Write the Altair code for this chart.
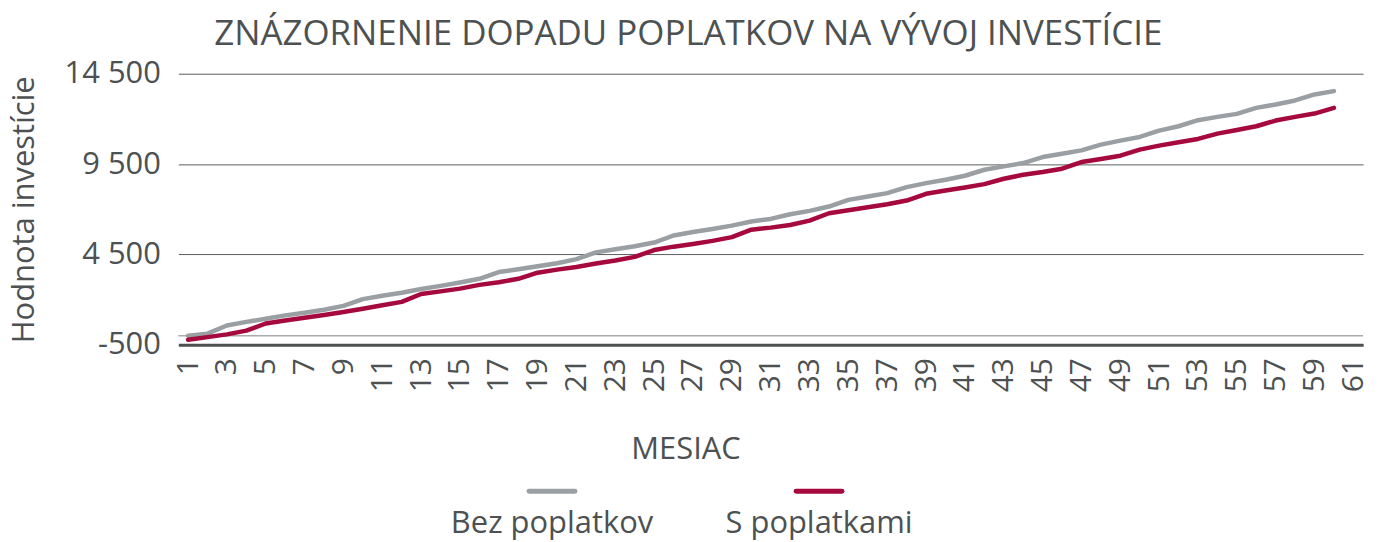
import altair as alt
import pandas as pd

# ---- data ----
months = list(range(1, 61))
bez_poplatkov = [0, 112, 562, 765, 934, 1125, 1271, 1440, 1648, 2025,
                 2211, 2379, 2587, 2756, 2942, 3150, 3521, 3673, 3842, 4011,
                 4236, 4612, 4781, 4950, 5155, 5546, 5737, 5906, 6092, 6317,
                 6463, 6722, 6907, 7148, 7518, 7704, 7889, 8222, 8444, 8630,
                 8852, 9185, 9370, 9556, 9889, 10074, 10259, 10574, 10796, 11000,
                 11352, 11593, 11926, 12111, 12278, 12611, 12797, 13019, 13352, 13537]
s_poplatkami = [-225, -79, 73, 281, 675, 844, 990, 1142, 1311, 1496,
                1687, 1873, 2306, 2452, 2604, 2812, 2959, 3150, 3487, 3656,
                3802, 3994, 4162, 4365, 4742, 4928, 5079, 5248, 5456, 5867,
                5981, 6129, 6370, 6778, 6944, 7111, 7278, 7481, 7852, 8037,
                8204, 8389, 8685, 8907, 9056, 9241, 9611, 9778, 9963, 10296,
                10519, 10704, 10889, 11185, 11389, 11593, 11907, 12111, 12296, 12611]
series_names = ["Bez poplatkov", "S poplatkami"]
series_colors = ["#9a9fa4", "#a6093d"]
y_ticks = [-500, 4500, 9500, 14500]
x_ticks = list(range(1, 62, 2))
zero_line = [0]

FONT = "Open Sans"
TEXT = "#4d5152"
W, H = 1189, 272

df = pd.DataFrame({
    "Mesiac": months + months,
    "Hodnota": bez_poplatkov + s_poplatkami,
    "Seria": [series_names[0]] * len(months) + [series_names[1]] * len(months),
})

color_scale = alt.Scale(domain=series_names, range=series_colors)

lines = alt.Chart(df).mark_line(strokeWidth=4.5, strokeCap="round", strokeJoin="round").encode(
    x=alt.X("Mesiac:Q",
            scale=alt.Scale(domain=[0.5, 61.5], nice=False, zero=False),
            axis=alt.Axis(values=x_ticks, labelAngle=-90, title="MESIAC", grid=False,
                          ticks=False, domainColor=TEXT, domainWidth=3,
                          labelFontSize=30, labelPadding=13, titleFontSize=31,
                          titleX=509, titleY=105, titleAlign="center", titleBaseline="middle",
                          labelFlush=False, labelOverlap=False)),
    y=alt.Y("Hodnota:Q",
            scale=alt.Scale(domain=[-500, 14500], nice=False, zero=False),
            axis=alt.Axis(values=y_ticks, grid=True, gridColor="#5a5e5f", gridWidth=1,
                          domain=False, ticks=False, labelFontSize=31, labelPadding=18,
                          title="Hodnota investície", titleFontSize=31, titlePadding=24,
                          labelExpr="(datum.value < 0 ? '-' : '') + replace(format(abs(datum.value), ','), ',', ' ')")),
    color=alt.Color("Seria:N", scale=color_scale, legend=None),
)

zero = alt.Chart(pd.DataFrame({"v": zero_line})).mark_rule(color="#a9abac", strokeWidth=1.5).encode(
    y="v:Q"
)

# custom legend: symbol above its label
leg_df = pd.DataFrame({"Seria": series_names})
leg_x = alt.X("Seria:N", sort=series_names,
              scale=alt.Scale(domain=series_names, paddingInner=0, paddingOuter=0, range=[241, 777]),
              axis=None)
sym = alt.Chart(leg_df).mark_point(shape="stroke", size=2116, strokeWidth=5, strokeCap="round",
                                   filled=False, opacity=1).encode(
    x=leg_x, y=alt.value(H + 147),
    color=alt.Color("Seria:N", scale=color_scale, legend=None),
)
lab = alt.Chart(leg_df).mark_text(fontSize=31, font=FONT, color=TEXT, baseline="middle").encode(
    x=leg_x, y=alt.value(H + 180), text="Seria:N"
)

chart = alt.layer(zero, lines, sym, lab).resolve_scale(x="independent").properties(
    width=W, height=H,
    title=alt.TitleParams("ZNÁZORNENIE DOPADU POPLATKOV NA VÝVOJ INVESTÍCIE",
                          fontSize=35, font=FONT, color=TEXT, fontWeight="normal",
                          anchor="middle", frame="bounds", offset=6),
    padding={"left": 8, "top": 16, "right": 15, "bottom": 2},
).configure_view(stroke=None).configure_axis(
    labelFont=FONT, titleFont=FONT, labelColor=TEXT, titleColor=TEXT, titleFontWeight="normal"
).configure_text(font=FONT).configure_title(font=FONT)

chart.save("out.html", embed_options={"renderer": "svg", "actions": False})
